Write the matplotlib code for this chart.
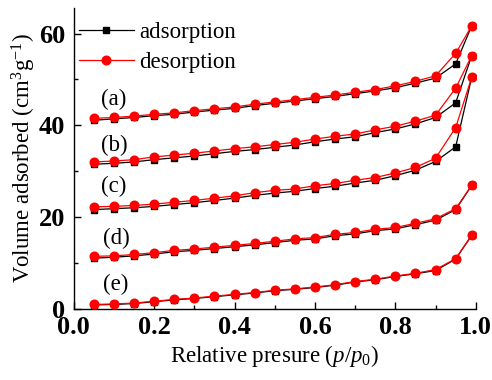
import matplotlib
matplotlib.use("Agg")
import matplotlib.pyplot as plt
from matplotlib.ticker import MultipleLocator

plt.rcParams["font.family"] = "Liberation Serif"
plt.rcParams["mathtext.fontset"] = "custom"
plt.rcParams["mathtext.rm"] = "Liberation Serif"
plt.rcParams["mathtext.it"] = "Liberation Serif:italic"
plt.rcParams["mathtext.bf"] = "Liberation Serif:bold"

# relative pressure points (shared by every isotherm)
p_rel = [0.05, 0.10, 0.15, 0.20, 0.25, 0.30, 0.35, 0.40, 0.45, 0.50,
         0.55, 0.60, 0.65, 0.70, 0.75, 0.80, 0.85, 0.90, 0.95, 0.99]

samples = ["(a)", "(b)", "(c)", "(d)", "(e)"]

ads_a = [41.1, 41.4, 41.7, 42.1, 42.4, 42.9, 43.3, 43.7, 44.3, 44.8,
         45.3, 45.8, 46.3, 46.9, 47.5, 48.2, 49.2, 50.3, 53.4, 61.7]
des_a = [41.5, 41.7, 42.0, 42.4, 42.7, 43.2, 43.6, 44.0, 44.6, 45.1,
         45.6, 46.1, 46.6, 47.2, 47.8, 48.6, 49.6, 50.8, 55.7, 61.7]

ads_b = [31.5, 31.7, 32.0, 32.5, 32.9, 33.3, 33.8, 34.3, 34.7, 35.2,
         35.7, 36.4, 37.0, 37.5, 38.4, 39.2, 40.3, 41.7, 44.9, 55.2]
des_b = [32.0, 32.2, 32.5, 33.1, 33.5, 33.9, 34.4, 34.9, 35.3, 35.8,
         36.3, 37.0, 37.6, 38.1, 39.0, 39.8, 40.9, 42.2, 48.1, 55.2]

ads_c = [21.6, 21.8, 22.0, 22.3, 22.7, 23.1, 23.6, 24.1, 24.7, 25.2,
         25.6, 26.2, 26.7, 27.4, 28.0, 29.0, 30.2, 32.1, 35.3, 50.5]
des_c = [22.2, 22.3, 22.5, 22.8, 23.2, 23.6, 24.1, 24.6, 25.3, 25.8,
         26.1, 26.8, 27.3, 28.0, 28.6, 29.6, 30.8, 32.8, 39.5, 50.5]

ads_d = [11.0, 11.2, 11.5, 11.9, 12.4, 12.7, 13.1, 13.5, 13.9, 14.4,
         14.9, 15.2, 15.9, 16.3, 17.0, 17.4, 18.3, 19.3, 21.6, 26.9]
des_d = [11.4, 11.5, 11.8, 12.2, 12.7, 13.0, 13.4, 13.8, 14.2, 14.7,
         15.2, 15.5, 16.2, 16.6, 17.3, 17.7, 18.6, 19.6, 21.8, 26.9]

ads_e = [0.8, 0.9, 1.1, 1.5, 1.9, 2.2, 2.6, 3.0, 3.4, 3.9,
         4.2, 4.6, 5.1, 5.8, 6.3, 7.0, 7.6, 8.3, 10.8, 16.0]
des_e = [0.9, 1.0, 1.2, 1.6, 2.0, 2.3, 2.7, 3.1, 3.5, 4.0,
         4.3, 4.7, 5.2, 5.9, 6.4, 7.1, 7.7, 8.5, 10.9, 16.0]

ads_all = [ads_a, ads_b, ads_c, ads_d, ads_e]
des_all = [des_a, des_b, des_c, des_d, des_e]

# where the sample tags sit (x, y in data units)
tag_x = [0.10, 0.10, 0.10, 0.105, 0.105]
tag_y = [45.7, 35.5, 26.6, 15.4, 5.3]

fig = plt.figure(figsize=(4.92, 3.8), dpi=100)
ax = fig.add_axes([0.150, 0.188, 0.817, 0.791])

for i, ads in enumerate(ads_all):
    ax.plot(p_rel, ads, color="black", marker="s", markersize=5, lw=0.9,
            label="adsorption" if i == 0 else None, zorder=2)
for i, des in enumerate(des_all):
    ax.plot(p_rel, des, color="red", marker="o", markersize=6.2, lw=0.9,
            label="desorption" if i == 0 else None, zorder=3)

for tag, tx, ty in zip(samples, tag_x, tag_y):
    ax.text(tx, ty, tag, fontsize=16.5, ha="center", va="center")

ax.set_xlim(0, 1.0)
ax.set_ylim(0, 65.6)
ax.xaxis.set_major_locator(MultipleLocator(0.2))
ax.xaxis.set_minor_locator(MultipleLocator(0.1))
ax.yaxis.set_major_locator(MultipleLocator(20))
ax.yaxis.set_minor_locator(MultipleLocator(10))
ax.xaxis.set_major_formatter(matplotlib.ticker.FormatStrFormatter("%.1f"))

ax.tick_params(which="both", direction="in", width=1.0)
ax.tick_params(which="major", length=5, labelsize=19, pad=5)
ax.tick_params(axis="y", which="major", pad=6)
ax.tick_params(which="minor", length=3)
for lab in ax.get_xticklabels() + ax.get_yticklabels():
    lab.set_fontweight("bold")

ax.spines["top"].set_visible(False)
ax.spines["right"].set_visible(False)
ax.spines["left"].set_linewidth(1.0)
ax.spines["bottom"].set_linewidth(1.0)

ax.set_xlabel("Relative presure ($p$/$p_0$)", fontsize=16.5, labelpad=3)
ax.set_ylabel("Volume adsorbed (cm$^3$g$^{-1}$)", fontsize=16.5, labelpad=1)

ax.legend(loc="upper left", bbox_to_anchor=(0.012, 0.955), frameon=False,
          fontsize=16.5, handlelength=2.4, handletextpad=0.25,
          labelspacing=0.42, borderpad=0, borderaxespad=0)

fig.savefig("out.png", dpi=100)
